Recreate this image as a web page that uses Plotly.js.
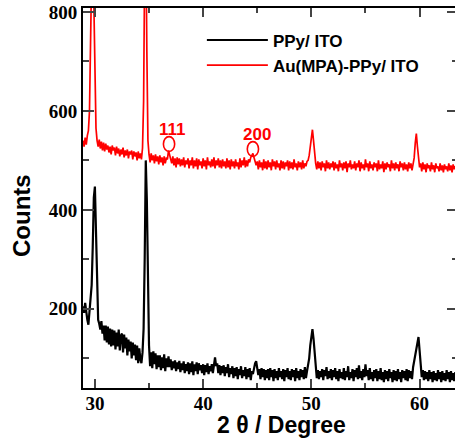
<!DOCTYPE html>
<html>
<head>
<meta charset="utf-8">
<script src="https://cdn.plot.ly/plotly-3.0.1.min.js"></script>
<style>
html,body{margin:0;padding:0;overflow:hidden;background:#fff;}
#chart{width:460px;height:439px;}
</style>
</head>
<body>
<div id="chart"></div>
<script>
// 2θ grid: start angle and step (degrees)
const twoThetaStart = 28.9;
const twoThetaStep = 0.1;

const seriesNames = ["PPy/ ITO", "Au(MPA)-PPy/ ITO"];
const xTitle = "2 θ / Degree";
const yTitle = "Counts";

// PPy/ ITO counts, one row per degree starting at 28.9
const countsPPy = [
  205,192,212,186,178,168,196,214,248,325,
  425,447,345,232,178,170,158,175,150,166,
  136,166,132,164,128,160,124,158,126,156,
  118,152,124,158,116,146,150,112,148,120,
  142,106,138,114,134,100,132,106,128,96,
  126,90,120,98,90,112,160,300,500,420,
  215,126,84,112,80,114,88,110,78,106,
  82,106,76,102,80,108,74,100,82,104,
  82,98,76,94,80,96,74,92,78,95,
  72,90,76,94,70,88,74,92,68,90,
  72,94,66,88,74,92,68,90,76,86,
  70,88,66,86,72,90,68,84,74,88,
  70,92,102,84,90,70,86,66,84,70,
  86,64,82,70,88,62,80,68,84,60,
  80,64,82,58,78,66,84,60,76,64,
  82,58,78,62,80,56,74,68,84,90,
  94,82,66,78,58,80,62,78,56,76,
  60,78,56,80,62,76,54,78,60,74,
  56,80,62,74,58,78,54,76,62,80,
  58,74,56,78,62,76,54,80,60,74,
  56,78,62,76,58,82,60,74,86,100,
  126,150,159,140,108,80,60,76,58,74,
  62,78,56,76,64,82,58,74,60,78,
  56,76,62,80,58,74,54,78,60,72,
  58,80,56,74,62,84,56,72,60,78,
  54,76,62,80,58,86,60,74,56,78,
  62,88,64,76,56,80,58,72,54,76,
  60,78,54,74,58,80,56,72,52,76,
  58,74,54,78,60,72,52,76,56,74,
  54,78,58,72,52,76,60,74,56,78,
  54,76,60,74,58,82,94,110,126,138,
  143,116,86,62,76,56,74,58,72,54,
  76,58,72,52,74,56,70,54,76,58,
  72,52,74,56,70,54,76,58,72,52,
  74,56,70,54,72,58,66
];

// Au(MPA)-PPy/ ITO counts, same grid
const countsAuPPy = [
  540,528,546,532,550,560,600,720,900,1020,
  820,640,565,540,528,542,524,538,520,536,
  518,534,522,530,516,528,512,530,520,526,
  510,528,514,524,508,522,512,526,506,520,
  510,522,504,518,512,520,502,518,508,516,
  500,518,504,514,502,525,620,900,980,720,
  540,512,496,514,500,510,494,512,498,508,
  492,510,496,506,490,508,494,504,502,520,
  510,506,494,508,490,504,486,506,492,504,
  488,502,490,506,486,500,492,504,484,500,
  490,506,484,500,488,504,482,502,490,498,
  484,504,488,500,482,506,490,498,486,502,
  488,506,484,500,490,504,486,500,484,502,
  488,498,484,504,486,500,482,502,488,498,
  484,502,488,496,482,504,486,500,490,506,
  486,500,488,502,496,506,510,514,506,500,
  490,498,482,500,486,496,480,502,484,498,
  482,500,486,496,480,502,488,498,482,500,
  486,494,480,500,484,498,482,496,488,500,
  480,498,484,496,482,502,486,494,480,498,
  486,496,482,500,484,494,488,498,500,510,
  528,552,562,540,512,494,482,498,484,496,
  480,498,486,494,478,500,484,496,482,494,
  486,498,480,496,484,492,478,500,486,494,
  480,496,484,498,476,494,486,500,482,492,
  484,498,480,494,486,500,478,496,484,492,
  480,502,486,494,478,498,484,492,480,496,
  486,494,478,500,482,492,484,498,476,494,
  482,496,486,492,478,500,484,494,480,496,
  484,492,478,498,486,494,480,496,482,492,
  478,496,484,494,480,492,505,535,554,528,
  502,486,494,478,496,482,492,476,494,484,
  490,478,496,482,490,476,494,484,488,478,
  494,480,490,476,492,482,488,478,494,480,
  490,476,492,482,488,478,490
];

// Au reflections marked on the red curve
const peakLabels = ["111", "200"];
const peakAngles = [36.85, 44.6];
const peakCounts = [533, 523];

const xTickVals = [30, 40, 50, 60];
const yTickVals = [200, 400, 600, 800];

const traces = [
  {x0: twoThetaStart, dx: twoThetaStep, y: countsPPy, type: 'scatter', mode: 'lines',
   name: seriesNames[0], line: {color: '#000000', width: 2.2}},
  {x0: twoThetaStart, dx: twoThetaStep, y: countsAuPPy, type: 'scatter', mode: 'lines',
   name: seriesNames[1], line: {color: '#ff0000', width: 1.7}}
];

const shapes = peakAngles.map((a, i) => ({
  type: 'circle', xref: 'x', yref: 'y',
  x0: a - 0.52, x1: a + 0.52, y0: peakCounts[i] - 15, y1: peakCounts[i] + 15,
  line: {color: '#ff0000', width: 1.6}
}));

const titleFont = {family: 'Arial, Liberation Sans, sans-serif', size: 23, weight: 'bold', color: '#000'};

const annotations = peakLabels.map((t, i) => ({
  text: t, x: peakAngles[i] + 0.35, y: peakCounts[i] + 29, xref: 'x', yref: 'y',
  showarrow: false, font: {family: 'Arial, Liberation Sans', size: 17, weight: 'bold', color: '#ff0000'}
}));
annotations.push({text: xTitle, xref: 'paper', yref: 'paper', x: (281 - 83) / 375, y: -(425.5 - 388) / 380,
  xanchor: 'center', yanchor: 'middle', showarrow: false, font: titleFont});
annotations.push({text: yTitle, xref: 'paper', yref: 'paper', x: -(83 - 22) / 375, y: (388 - 216) / 380,
  xanchor: 'center', yanchor: 'middle', textangle: -90, showarrow: false,
  font: {family: 'Arial, Liberation Sans, sans-serif', size: 24, weight: 'bold', color: '#000'}});

const tickFont = {family: 'Liberation Serif, Times New Roman, serif', size: 19, weight: 'bold', color: '#000'};

const layout = {
  width: 460, height: 439,
  margin: {l: 83, r: 2, t: 8, b: 51},
  paper_bgcolor: '#fff', plot_bgcolor: '#fff',
  showlegend: true,
  legend: {x: 0.317, y: 0.962, xanchor: 'left', yanchor: 'top', bgcolor: 'rgba(0,0,0,0)',
    font: {family: 'Arial, Liberation Sans, sans-serif', size: 17, weight: 'bold', color: '#000'},
    itemwidth: 61, tracegroupgap: 0},
  xaxis: {
    range: [28.9, 63.55], tickvals: xTickVals, ticks: 'inside', ticklen: 9, tickwidth: 2,
    showline: true, linewidth: 2, linecolor: '#000', mirror: 'ticks', showgrid: false, zeroline: false,
    minor: {dtick: 5, tick0: 0, ticks: 'inside', ticklen: 5, tickwidth: 2, showgrid: false},
    tickfont: tickFont, ticklabelstandoff: -3
  },
  yaxis: {
    range: [40, 808], tickvals: yTickVals, ticks: 'inside', ticklen: 11, tickwidth: 2,
    showline: true, linewidth: 2, linecolor: '#000', mirror: 'ticks', showgrid: false, zeroline: false,
    minor: {dtick: 100, tick0: 0, ticks: 'inside', ticklen: 6, tickwidth: 2, showgrid: false},
    tickfont: tickFont
  },
  shapes: shapes,
  annotations: annotations
};

Plotly.newPlot('chart', traces, layout, {displayModeBar: false, staticPlot: true});
</script>
</body>
</html>
